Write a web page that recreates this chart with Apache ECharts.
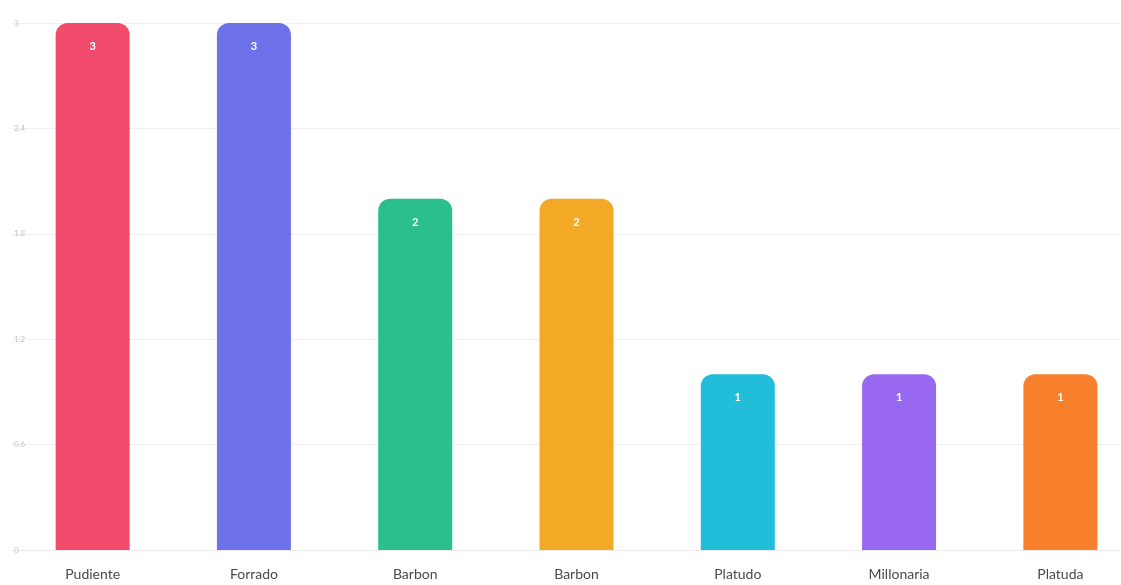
<!DOCTYPE html>
<html>
<head>
<meta charset="utf-8">
<style>
  html, body { margin: 0; padding: 0; background: #ffffff; overflow: hidden; }
  #chart { width: 1141px; height: 585px; }
</style>
<script src="https://cdn.jsdelivr.net/npm/echarts@6/dist/echarts.min.js"></script>
</head>
<body>
<div id="chart"></div>
<script>
// Category names along the x axis
const categories = ['Pudiente', 'Forrado', 'Barbon', 'Barbon', 'Platudo', 'Millonaria', 'Platuda'];
// Count for each category
const values = [3, 3, 2, 2, 1, 1, 1];
// One fill colour per bar
const barColors = ['#f24b6b', '#6d71ea', '#2abf8c', '#f3a826', '#22bdd9', '#9869f0', '#f8802d'];

const chart = echarts.init(document.getElementById('chart'), null, { renderer: 'canvas' });

chart.setOption({
  backgroundColor: '#ffffff',
  animation: false,
  grid: { left: 12, top: 23, right: 0, bottom: 35, containLabel: false },
  xAxis: {
    type: 'category',
    data: categories,
    axisLine: { show: true, lineStyle: { color: '#ececec', width: 1 } },
    axisTick: { show: false },
    axisLabel: {
      color: '#4a4a4a',
      fontSize: 14,
      fontFamily: 'Lato, "Open Sans", sans-serif',
      margin: 17
    }
  },
  yAxis: {
    type: 'value',
    min: 0,
    max: 3,
    interval: 0.6,
    axisLine: { show: false },
    axisTick: { show: false },
    splitLine: { show: true, lineStyle: { color: '#f0f0f0', width: 1 } },
    axisLabel: {
      inside: true,
      margin: 2,
      color: '#c4c4c4',
      fontSize: 8,
      fontFamily: 'Lato, sans-serif',
      formatter: function (v) { return String(Math.round(v * 10) / 10); }
    }
  },
  series: [{
    type: 'bar',
    data: values.map(function (v, i) {
      return { value: v, itemStyle: { color: barColors[i] } };
    }),
    barWidth: 74,
    itemStyle: { borderRadius: [12, 12, 0, 0] },
    label: {
      show: true,
      position: 'insideTop',
      distance: 18,
      color: '#ffffff',
      fontSize: 11,
      fontWeight: 'bold',
      fontFamily: 'Lato, sans-serif'
    }
  }]
});
</script>
</body>
</html>
